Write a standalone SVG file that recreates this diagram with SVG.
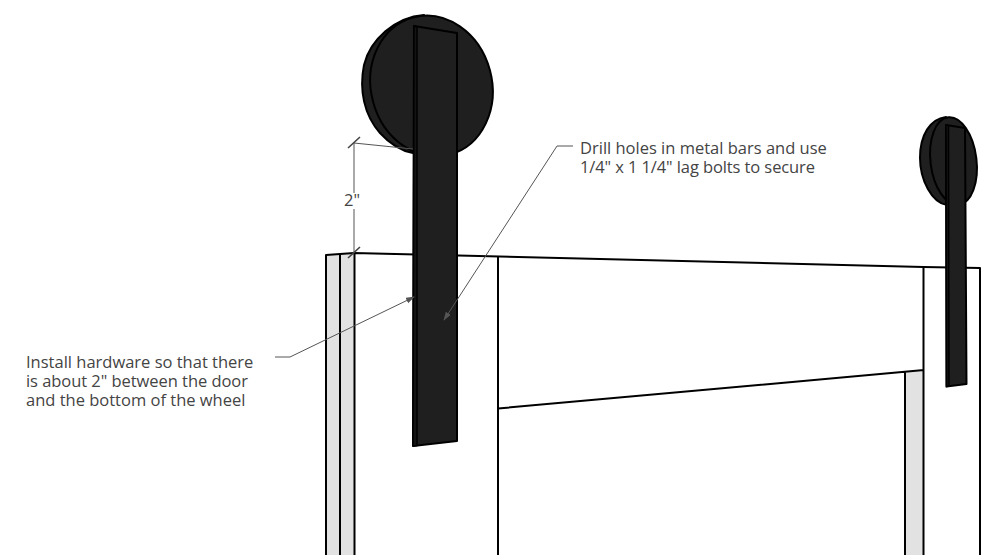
<svg xmlns="http://www.w3.org/2000/svg" width="996" height="555" viewBox="0 0 996 555">
<defs>
<style>
.ln{fill:none;stroke:#000;stroke-width:2;stroke-linejoin:round}
.gy{fill:#e2e2e2;stroke:none}
.dk{fill:#1f1f1f;stroke:#000;stroke-width:2;stroke-linejoin:round}
.sd{fill:#141414;stroke:#000;stroke-width:1.500}
.ld{fill:none;stroke:#555;stroke-width:1}
.tk{fill:none;stroke:#444;stroke-width:1.600}
.t{font-family:"Open Sans",sans-serif;font-size:16.500px;fill:#444}
</style>
<marker id="ah" markerWidth="9" markerHeight="7" refX="8" refY="3" orient="auto" markerUnits="userSpaceOnUse"><path d="M0 0L9 3L0 6Z" fill="#555"/></marker>
</defs>
<rect width="996" height="555" fill="#fff"/>
<g id="door">
<path class="gy" d="M326 255L340 254V555H326ZM340 254L354 253V555H340ZM905 372L924 370V555H905Z"/>
<path class="ln" d="M326 555V255L340 254L354 253L923.500 267L980 268V555"/>
<path class="ln" d="M340 254V555M354.500 253V555M498 257V555M498 408.500L924 370M923.500 267V555M905 372V555"/>
</g>
<g id="wheel-left">
<path class="dk" d="M424 15C395 17 370 40 364 65C359 90 364 115 380 133C390 144 402 151 413 153L440 120Z"/>
<ellipse class="dk" cx="431.500" cy="86" rx="60.500" ry="71" transform="rotate(-15 431.500 86)"/>
</g>
<g id="bar-left">
<path class="dk" d="M414 26L457 33L457 441L413 446Z"/>
<path class="sd" d="M414 26L417 27L417 445.500L413 446Z"/>
</g>
<g id="wheel-right">
<path class="dk" d="M946 117C930 119 920 135 920 158C920 180 932 203 947 205L960 160Z"/>
<ellipse class="dk" cx="953.500" cy="161" rx="23" ry="44" transform="rotate(-7 953.500 161)"/>
</g>
<g id="bar-right">
<path class="dk" d="M946 125L965 128L966.500 384L946.500 386.500Z"/>
<path class="sd" d="M946 125L948.500 125.500L949 386L946.500 386.500Z"/>
</g>
<g id="connectors">
<path class="ld" d="M354 143V193M354 209V253"/>
<path class="ld" d="M354 143L413 149"/>
<path class="tk" d="M348 148L360 137M348 258L360 247"/>
<path class="ld" marker-end="url(#ah)" d="M275 357H290L414 297"/>
<path class="ld" marker-end="url(#ah)" d="M573 146H557L444 320"/>
</g>
<g id="labels">
<text class="t" x="344" y="206">2"</text>
<text class="t"><tspan x="580" y="153.500">Drill holes in metal bars and use</tspan><tspan x="580" y="172.500" textLength="235">1/4" x 1 1/4" lag bolts to secure</tspan></text>
<text class="t"><tspan x="26" y="367.700">Install hardware so that there</tspan><tspan x="26" y="387" textLength="222">is about 2" between the door</tspan><tspan x="26" y="406.300">and the bottom of the wheel</tspan></text>
</g>
</svg>
